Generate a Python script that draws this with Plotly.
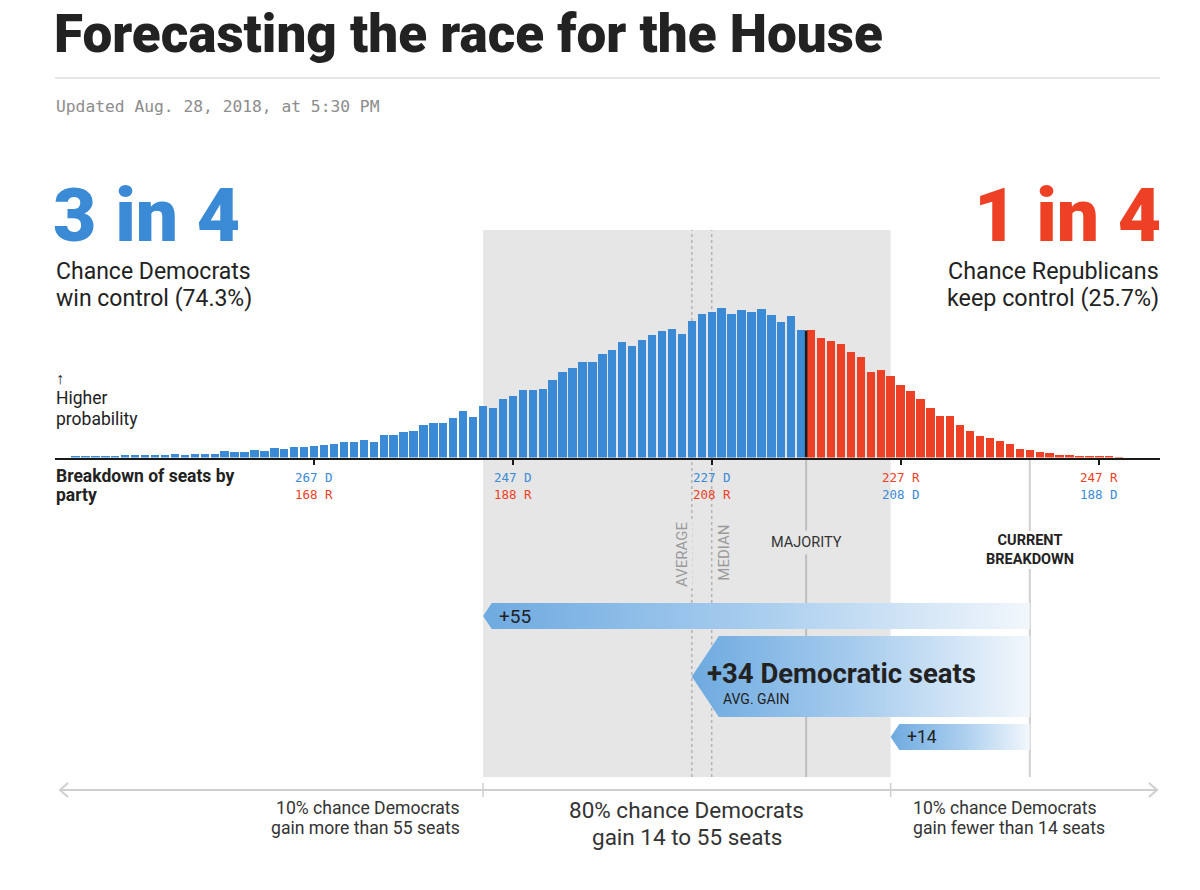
import plotly.graph_objects as go

# ---------------- data ----------------
dem_seats = list(range(291, 185, -1))  # Democratic seat totals, 291 .. 186
prob_pct = [
    0.02, 0.03, 0.01, 0.02, 0.02, 0.04, 0.04, 0.05, 0.04, 0.04,   # 291-282
    0.06, 0.05, 0.07, 0.07, 0.06, 0.11, 0.10, 0.09, 0.13, 0.11,   # 281-272
    0.17, 0.16, 0.18, 0.18, 0.21, 0.23, 0.25, 0.27, 0.27, 0.31,   # 271-262
    0.27, 0.41, 0.41, 0.46, 0.48, 0.58, 0.61, 0.61, 0.71, 0.83,   # 261-252
    0.73, 0.92, 0.89, 1.04, 1.10, 1.20, 1.20, 1.23, 1.38, 1.53,   # 251-242
    1.60, 1.71, 1.71, 1.85, 1.92, 2.07, 1.99, 2.09, 2.19, 2.26,   # 241-232
    2.29, 2.21, 2.44, 2.57, 2.59, 2.67, 2.57, 2.63, 2.60, 2.66,   # 231-222
    2.54, 2.42, 2.53, 2.28,                                       # 221-218
    2.27, 2.14, 2.08, 2.02, 1.89, 1.79, 1.52, 1.57, 1.46, 1.30,   # 217-208
    1.19, 1.04, 0.89, 0.75, 0.75, 0.58, 0.47, 0.39, 0.35, 0.30,   # 207-198
    0.24, 0.16, 0.14, 0.09, 0.08, 0.05, 0.05, 0.03, 0.02, 0.01,   # 197-188
    0.01, 0.005,                                                  # 187-186
]
assert len(prob_pct) == len(dem_seats)

TOTAL_SEATS = 435
MAJORITY = 218
CURRENT_DEM = 195
AVG_SEATS = 229
MEDIAN_SEATS = 227
GAIN_HIGH, GAIN_AVG, GAIN_LOW = 55, 34, 14
tick_dem = [267, 247, 227, 208, 188]
dem_chance, rep_chance = 74.3, 25.7

# ---------------- style ----------------
W, H = 1200, 890
BLUE = "#3a8ad6"
RED = "#ed4024"
DARK = "#222222"
GRAYBG = "#e6e6e6"
FONT = "Roboto, 'Liberation Sans', sans-serif"
MONO = "'DejaVu Sans Mono', monospace"

PXS = 9.94                       # pixels per seat
REF_SEAT, REF_PX = 227, 711.7
X_LEFT_PX, X_RIGHT_PX = 55, 1160
BASE_PX, TOP_PX = 457.5, 150
PX_PER_PCT = 56.0


def px(x):
    return x / W


def py(y):
    return 1 - y / H


x_range = [REF_SEAT + (REF_PX - X_LEFT_PX) / PXS, REF_SEAT - (X_RIGHT_PX - REF_PX) / PXS]

fig = go.Figure()

colors = [BLUE if s >= MAJORITY else RED for s in dem_seats]
fig.add_trace(go.Bar(x=dem_seats, y=prob_pct, width=0.84,
                     marker=dict(color=colors, line=dict(width=0)),
                     hoverinfo="skip", showlegend=False))

# gain arrows (gradient polygons)
arrows = [
    (GAIN_HIGH, 603, 629),
    (GAIN_AVG, 636, 717),
    (GAIN_LOW, 724, 750),
]
for gain, yt, yb in arrows:
    tip = CURRENT_DEM + gain
    depth = (yb - yt) / 3.0 / PXS
    xs = [CURRENT_DEM, tip - depth, tip, tip - depth, CURRENT_DEM, CURRENT_DEM]
    ys = [yt, yt, (yt + yb) / 2, yb, yb, yt]
    fig.add_trace(go.Scatter(
        x=xs, y=ys, xaxis="x", yaxis="y2", mode="lines",
        line=dict(width=0, color="rgba(0,0,0,0)"), fill="toself",
        fillgradient=dict(type="horizontal",
                          colorscale=[[0, "#f2f7fc"], [0.5, "#a8cdee"], [1, "#6eaae0"]],
                          start=CURRENT_DEM, stop=tip),
        hoverinfo="skip", showlegend=False))

shapes = []
# gray 80% band (paper-referenced so it sits beneath every subplot)
shapes.append(dict(type="rect", xref="x", yref="paper",
                   x0=CURRENT_DEM + GAIN_HIGH, x1=CURRENT_DEM + GAIN_LOW, y0=py(777), y1=py(230),
                   fillcolor=GRAYBG, line=dict(width=0), layer="below"))
# average / median dotted lines
for s in (AVG_SEATS, MEDIAN_SEATS):
    shapes.append(dict(type="line", xref="x", yref="paper", x0=s, x1=s, y0=py(777), y1=py(230),
                       line=dict(color="#b3b3b3", width=1.5, dash="dot"), layer="below"))
# majority line below axis
shapes.append(dict(type="line", xref="x", yref="paper", x0=MAJORITY - 0.5, x1=MAJORITY - 0.5,
                   y0=py(777), y1=py(BASE_PX), line=dict(color="#bdbdbd", width=2), layer="below"))
# current breakdown line, broken around its label
for ya, yb in ((BASE_PX, 531), (569, 777)):
    shapes.append(dict(type="line", xref="x", yref="paper", x0=CURRENT_DEM, x1=CURRENT_DEM,
                       y0=py(yb), y1=py(ya), line=dict(color="#cfcfcf", width=2), layer="below"))
# black divider between majority bars
i218 = dem_seats.index(MAJORITY)
shapes.append(dict(type="line", xref="x", yref="y", x0=MAJORITY - 0.5, x1=MAJORITY - 0.5,
                   y0=0, y1=min(prob_pct[i218], prob_pct[i218 + 1]),
                   line=dict(color="#1a1a1a", width=2.5), layer="above"))
# header rule
shapes.append(dict(type="line", xref="paper", yref="paper", x0=px(55), x1=px(1160),
                   y0=py(78), y1=py(78), line=dict(color="#cccccc", width=1)))
# bottom double arrow
AY = 790
shapes.append(dict(type="line", xref="paper", yref="paper", x0=px(60), x1=px(1157),
                   y0=py(AY), y1=py(AY), line=dict(color="#cfcfcf", width=2)))
for xt, d in ((60, 8), (1157, -8)):
    shapes.append(dict(type="path", xref="paper", yref="paper",
                       path=f"M {px(xt + d)} {py(AY - 7)} L {px(xt)} {py(AY)} L {px(xt + d)} {py(AY + 7)}",
                       line=dict(color="#cfcfcf", width=2)))
for s in (CURRENT_DEM + GAIN_HIGH, CURRENT_DEM + GAIN_LOW):
    shapes.append(dict(type="line", xref="x", yref="paper", x0=s, x1=s, y0=py(797), y1=py(783),
                       line=dict(color="#cfcfcf", width=1.5)))

ann = []


def txt(x, y, text, size, color=DARK, xanchor="left", family=FONT, xref="paper", weight=None, **kw):
    font = dict(size=size, color=color, family=family)
    if weight:
        font["weight"] = weight
    ann.append(dict(x=px(x) if xref == "paper" else x, y=y, xref=xref, yref="y2",
                    text=text, showarrow=False, xanchor=xanchor, yanchor="middle",
                    font=font, **kw))


# header
txt(52, 34, "Forecasting the race for the House", 53, weight=900)
txt(54, 106, "Updated Aug. 28, 2018, at 5:30 PM", 16.3, color="#8c8c8c", family=MONO)

# big odds
txt(51, 215, "3 in 4", 75, color=BLUE, weight=900)
txt(54, 271, "Chance Democrats", 23)
txt(54, 298, f"win control ({dem_chance}%)", 23)
txt(1163, 215, "1 in 4", 75, color=RED, xanchor="right", weight=900)
txt(1161, 271, "Chance Republicans", 23.3, xanchor="right")
txt(1161, 298, f"keep control ({rep_chance}%)", 23.3, xanchor="right")

# y hint
txt(54, 378, "↑", 16)
txt(54, 398, "Higher", 17.5)
txt(54, 419, "probability", 17.5)

# x axis label
txt(54, 476, "<b>Breakdown of seats by</b>", 17.5)
txt(54, 495, "<b>party</b>", 17.5)

# tick labels
for d in tick_dem:
    r = TOTAL_SEATS - d
    if d >= MAJORITY:
        top, tc, bot, bc = f"{d} D", BLUE, f"{r} R", RED
    else:
        top, tc, bot, bc = f"{r} R", RED, f"{d} D", BLUE
    txt(d, 477, top, 12.5, color=tc, xanchor="center", family=MONO, xref="x")
    txt(d, 494, bot, 12.5, color=bc, xanchor="center", family=MONO, xref="x")

# vertical line labels
txt(AVG_SEATS + 1.0, 554, "AVERAGE", 15, color="#9a9a9a", xanchor="center", xref="x",
    textangle=-90, bgcolor=GRAYBG)
txt(MEDIAN_SEATS - 1.2, 553, "MEDIAN", 15, color="#9a9a9a", xanchor="center", xref="x",
    textangle=-90, bgcolor=GRAYBG)
txt(MAJORITY - 0.5, 542, "MAJORITY", 14.5, color="#333333", xanchor="center", xref="x",
    bgcolor=GRAYBG, borderpad=3)
txt(CURRENT_DEM, 550, "<b>CURRENT<br>BREAKDOWN</b>", 14.5, color=DARK, xanchor="center", xref="x")

# arrow texts
txt(CURRENT_DEM + GAIN_HIGH - 14 / PXS, 616, f"+{GAIN_HIGH}", 19, xref="x")
txt(CURRENT_DEM + GAIN_AVG - 13 / PXS, 673, f"<b>+{GAIN_AVG} Democratic seats</b>", 27.5, xref="x")
txt(CURRENT_DEM + GAIN_AVG - 29 / PXS, 699, "AVG. GAIN", 14, xref="x")
txt(CURRENT_DEM + GAIN_LOW - 14 / PXS, 737, f"+{GAIN_LOW}", 17.5, xref="x")

# bottom texts
mid = CURRENT_DEM + (GAIN_HIGH + GAIN_LOW) / 2
txt(CURRENT_DEM + GAIN_HIGH + 2.1, 808, "10% chance Democrats", 17.6, xanchor="right", xref="x", color="#333333")
txt(CURRENT_DEM + GAIN_HIGH + 2.1, 828, f"gain more than {GAIN_HIGH} seats", 17.6, xanchor="right", xref="x", color="#333333")
txt(mid, 810, "80% chance Democrats", 22.5, xanchor="center", xref="x", color="#333333")
txt(mid, 837, f"gain {GAIN_LOW} to {GAIN_HIGH} seats", 22.5, xanchor="center", xref="x", color="#333333")
txt(CURRENT_DEM + GAIN_LOW - 2.1, 808, "10% chance Democrats", 17.6, xref="x", color="#333333")
txt(CURRENT_DEM + GAIN_LOW - 2.1, 828, f"gain fewer than {GAIN_LOW} seats", 17.6, xref="x", color="#333333")

fig.update_layout(
    width=W, height=H, margin=dict(l=0, r=0, t=0, b=0),
    paper_bgcolor="white", plot_bgcolor="rgba(0,0,0,0)",
    showlegend=False, bargap=0, shapes=shapes, annotations=ann,
    xaxis=dict(domain=[px(X_LEFT_PX), px(X_RIGHT_PX)], range=x_range, anchor="y",
               showgrid=False, zeroline=False, showline=True, linecolor="#1a1a1a", linewidth=1.5,
               ticks="outside", ticklen=6, tickwidth=1.5, tickcolor="#1a1a1a",
               tickvals=tick_dem, showticklabels=False, fixedrange=True),
    yaxis=dict(domain=[py(BASE_PX), py(TOP_PX)], range=[0, (BASE_PX - TOP_PX) / PX_PER_PCT],
               visible=False, fixedrange=True),
    yaxis2=dict(domain=[0, 1], range=[H, 0], anchor="x", visible=False, fixedrange=True),
)

fig.write_html("out.html", config={"displayModeBar": False},
               post_script="document.body.style.margin='0';document.body.style.overflow='hidden';")
